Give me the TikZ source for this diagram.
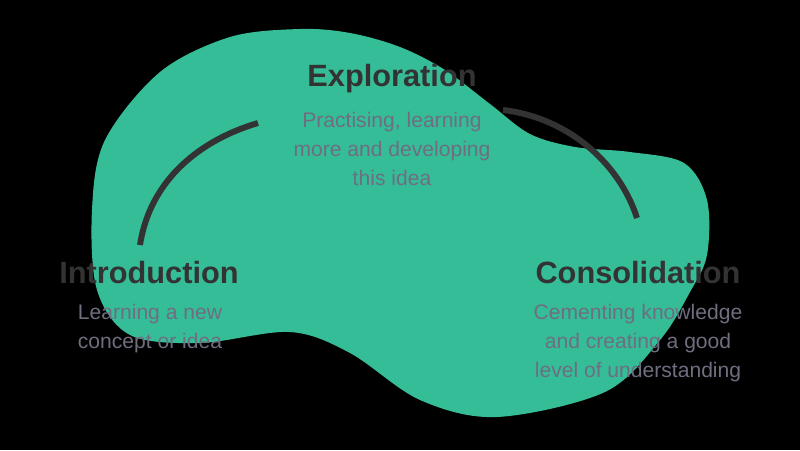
\documentclass[tikz,border=0pt]{standalone}
\usepackage{fontspec}
\setmainfont{Liberation Sans}
\definecolor{blobgreen}{HTML}{35BD98}
\definecolor{titlegray}{HTML}{333333}
\definecolor{descgray}{HTML}{6E6E80}

\begin{document}
\begin{tikzpicture}[
    x=0.02cm, y=-0.02cm,
    stagetitle/.style={text=titlegray, font=\bfseries\fontsize{17.5}{21}\selectfont, inner sep=0pt},
    stagedesc/.style={text=descgray, font=\fontsize{12}{16.5}\selectfont, align=center, inner sep=0pt},
    arcline/.style={draw=titlegray, line width=3.4pt}
]

% background and blob
\fill[black] (0,0) rectangle (800,450);
\fill[blobgreen] plot[smooth cycle, tension=0.55] coordinates {
    (300,29) (350,33) (400,47) (445,70) (490,104) (530,134) (575,147)
    (630,152) (684,163) (707,200) (707,255) (690,292) (660,340) (605,392)
    (497,417) (420,400) (350,353) (290,332) (200,343) (130,335) (97,290)
    (92,210) (105,140) (160,72) (230,37)};

% stage titles
\node[stagetitle] (intro) at (149,273) {Introduction};
\node[stagetitle] (explo) at (392,79) {Exploration};
\node[stagetitle] (consol) at (638,273) {Consolidation};

% stage descriptions
\node[stagedesc] (introdesc) at (150,329) {Learning a new\\concept or idea};
\node[stagedesc] (explodesc) at (392,149) {Practising, learning\\more and developing\\this idea};
\node[stagedesc] (consoldesc) at (638,343) {Cementing knowledge\\and creating a good\\level of understanding};

% arc ends
\coordinate (la) at (140,245);
\coordinate (lb) at (258,123);
\coordinate (ra) at (503,110);
\coordinate (rb) at (637,218);

% arcs
\draw[arcline] (la) .. controls (150,180) and (200,140) .. (lb);
\draw[arcline] (ra) .. controls (570,118) and (620,165) .. (rb);

\end{tikzpicture}
\end{document}
